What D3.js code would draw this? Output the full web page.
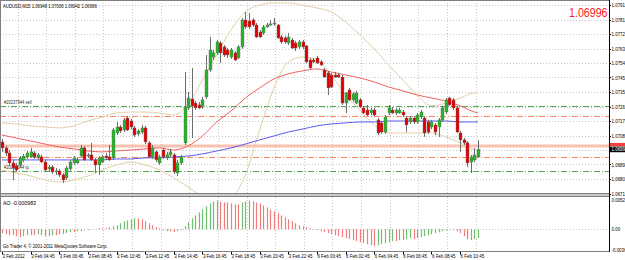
<!DOCTYPE html>
<html>
<head>
<meta charset="utf-8">
<script src="https://cdn.jsdelivr.net/npm/d3@7"></script>
<style>
  html, body { margin: 0; padding: 0; background: #fff; overflow: hidden; }
  svg { display: block; font-family: "Liberation Sans", Arial, sans-serif; }
</style>
</head>
<body>
<svg id="chart" width="625" height="260"></svg>
<script>
const symbolTitle = "AUDUSD,M15  1.06948 1.07006 1.06942 1.06996";
const lastPrice = "1.06996";
const aoTitle = "AO -0.000983";
const copyright = "Go Trader 4, \u00a9 2001-2011 MetaQuotes Software Corp.";

const timeLabels = ["3 Feb 2012", "3 Feb 04:45", "3 Feb 06:45", "3 Feb 08:45", "3 Feb 10:45", "3 Feb 12:45",
  "3 Feb 14:45", "3 Feb 16:45", "3 Feb 18:45", "3 Feb 20:45", "3 Feb 22:45", "6 Feb 00:45",
  "6 Feb 02:45", "6 Feb 04:45", "6 Feb 06:45", "6 Feb 08:45", "6 Feb 10:45"];
const timeLabelBars = [0, 8, 16, 24, 32, 40, 48, 56, 64, 72, 80, 88, 96, 104, 112, 120, 128];

const priceTicks = [1.07911, 1.07819, 1.07727, 1.07635, 1.07543, 1.07451, 1.07359, 1.07267,
  1.07175, 1.07083, 1.06991, 1.06899, 1.06807, 1.06715];
const aoTicks = [0.00527, 0, -0.00368];
const aoTickText = ["0.00527", "0.00", "-0.00368"];

const open = [1.07042,1.07004,1.06972,1.06909,1.06890,1.06896,1.06928,1.06947,1.06947,1.06972,
  1.06941,1.06947,1.06915,1.06871,1.06883,1.06852,1.06858,1.06833,1.06814,1.06871,
  1.06909,1.06909,1.06953,1.07004,1.06953,1.06960,1.06928,1.06896,1.06915,1.06953,
  1.06947,1.06941,1.07099,1.07137,1.07118,1.07194,1.07175,1.07131,1.07093,1.07105,
  1.07131,1.07036,1.06947,1.06979,1.06909,1.06991,1.06941,1.06960,1.06960,1.06845,
  1.06909,1.07036,1.07258,1.07315,1.07289,1.07277,1.07264,1.07328,1.07499,1.07581,
  1.07607,1.07670,1.07645,1.07626,1.07581,1.07607,1.07575,1.07645,1.07816,1.07810,
  1.07816,1.07784,1.07740,1.07734,1.07772,1.07784,1.07791,1.07784,1.07708,1.07702,
  1.07670,1.07689,1.07670,1.07645,1.07677,1.07651,1.07562,1.07562,1.07575,1.07550,
  1.07499,1.07480,1.07467,1.07467,1.07467,1.07454,1.07289,1.07372,1.07309,1.07289,
  1.07309,1.07258,1.07245,1.07226,1.07245,1.07182,1.07163,1.07105,1.07226,1.07245,
  1.07226,1.07226,1.07232,1.07194,1.07169,1.07194,1.07169,1.07201,1.07194,1.07169,
  1.07137,1.07150,1.07137,1.07182,1.07232,1.07321,1.07309,1.07258,1.07099,1.07055,
  1.07036,1.06915,1.06928,1.06947];
const high = [1.07061,1.07017,1.06991,1.06928,1.06909,1.06953,1.06966,1.06985,1.07004,1.06985,
  1.06972,1.06960,1.06928,1.06896,1.06896,1.06877,1.06871,1.06845,1.06890,1.06928,
  1.06953,1.06941,1.07023,1.07017,1.06972,1.07036,1.06941,1.06953,1.06960,1.06972,
  1.07023,1.07131,1.07169,1.07150,1.07194,1.07207,1.07188,1.07144,1.07124,1.07150,
  1.07144,1.07048,1.07023,1.06991,1.06960,1.07004,1.06979,1.06998,1.06972,1.06928,
  1.06960,1.07486,1.07359,1.07512,1.07302,1.07296,1.07328,1.07594,1.07708,1.07626,
  1.07689,1.07683,1.07657,1.07638,1.07638,1.07619,1.07657,1.07829,1.07867,1.07861,
  1.07829,1.07797,1.07753,1.07784,1.07797,1.07816,1.07829,1.07791,1.07721,1.07715,
  1.07734,1.07702,1.07683,1.07689,1.07689,1.07657,1.07575,1.07575,1.07588,1.07562,
  1.07512,1.07493,1.07480,1.07486,1.07480,1.07467,1.07359,1.07385,1.07359,1.07366,
  1.07321,1.07271,1.07277,1.07258,1.07258,1.07194,1.07175,1.07213,1.07277,1.07264,
  1.07258,1.07258,1.07245,1.07207,1.07207,1.07207,1.07226,1.07245,1.07207,1.07182,
  1.07182,1.07163,1.07194,1.07271,1.07321,1.07328,1.07321,1.07271,1.07112,1.07067,
  1.07048,1.06960,1.07004,1.07055];
const low = [1.06979,1.06953,1.06890,1.06801,1.06852,1.06883,1.06915,1.06934,1.06941,1.06934,
  1.06928,1.06909,1.06852,1.06852,1.06839,1.06833,1.06820,1.06782,1.06801,1.06858,
  1.06896,1.06902,1.06947,1.06922,1.06941,1.06922,1.06845,1.06833,1.06909,1.06928,
  1.06922,1.06928,1.07086,1.07099,1.07105,1.07112,1.07124,1.07074,1.07080,1.07093,
  1.07029,1.06941,1.06934,1.06915,1.06896,1.06934,1.06928,1.06947,1.06839,1.06826,
  1.06896,1.07023,1.07245,1.07067,1.07245,1.07251,1.07251,1.07315,1.07486,1.07562,
  1.07594,1.07543,1.07581,1.07575,1.07569,1.07556,1.07569,1.07632,1.07759,1.07759,
  1.07772,1.07702,1.07702,1.07721,1.07765,1.07778,1.07778,1.07696,1.07664,1.07664,
  1.07657,1.07632,1.07619,1.07632,1.07632,1.07543,1.07505,1.07543,1.07537,1.07524,
  1.07448,1.07340,1.07385,1.07448,1.07448,1.07277,1.07226,1.07302,1.07296,1.07283,
  1.07258,1.07220,1.07207,1.07213,1.07207,1.07086,1.07093,1.07093,1.07213,1.07220,
  1.07213,1.07220,1.07201,1.07105,1.07156,1.07156,1.07156,1.07188,1.07074,1.07093,
  1.07124,1.07086,1.07074,1.07169,1.07220,1.07271,1.07245,1.07099,1.06979,1.07023,
  1.06883,1.06845,1.06915,1.06941];
const close = [1.07004,1.06972,1.06909,1.06877,1.06864,1.06941,1.06953,1.06972,1.06979,1.06947,
  1.06960,1.06915,1.06864,1.06883,1.06852,1.06858,1.06833,1.06801,1.06877,1.06915,
  1.06941,1.06928,1.07004,1.06928,1.06960,1.06928,1.06896,1.06941,1.06947,1.06941,
  1.06928,1.07118,1.07137,1.07112,1.07182,1.07118,1.07137,1.07086,1.07112,1.07131,
  1.07042,1.06947,1.07004,1.06928,1.06947,1.06947,1.06960,1.06979,1.06852,1.06909,
  1.06947,1.07264,1.07321,1.07271,1.07258,1.07258,1.07309,1.07499,1.07626,1.07607,
  1.07677,1.07607,1.07594,1.07594,1.07626,1.07562,1.07645,1.07816,1.07772,1.07772,
  1.07784,1.07708,1.07708,1.07772,1.07784,1.07791,1.07797,1.07702,1.07677,1.07677,
  1.07708,1.07638,1.07638,1.07677,1.07645,1.07550,1.07512,1.07550,1.07543,1.07531,
  1.07454,1.07385,1.07391,1.07454,1.07454,1.07289,1.07353,1.07309,1.07347,1.07353,
  1.07264,1.07226,1.07213,1.07245,1.07213,1.07099,1.07105,1.07201,1.07258,1.07226,
  1.07245,1.07245,1.07213,1.07150,1.07194,1.07169,1.07213,1.07232,1.07099,1.07105,
  1.07169,1.07105,1.07182,1.07258,1.07309,1.07277,1.07258,1.07105,1.07055,1.07036,
  1.06909,1.06947,1.06960,1.06996];

// Indicateurs (valeurs lues tous les 4 bars)
const lineBars = [0,4,8,12,16,20,24,28,32,36,40,44,48,52,56,60,64,68,72,76,80,84,88,92,96,100,104,108,112,116,120,124,128,132,133];
const maFast = [1.07086,1.07067,1.07048,1.07029,1.07010,1.06998,1.06985,1.06979,1.06985,1.06991,1.06998,1.07004,1.06991,1.07017,
  1.07080,1.07169,1.07239,1.07321,1.07385,1.07442,1.07474,1.07493,1.07505,1.07486,1.07467,1.07448,1.07423,1.07391,1.07366,
  1.07340,1.07321,1.07302,1.07271,1.07232,1.07226];
const maSlow = [1.06928,1.06928,1.06928,1.06928,1.06928,1.06928,1.06928,1.06928,1.06934,1.06934,1.06941,1.06941,1.06947,1.06953,
  1.06966,1.06985,1.07004,1.07029,1.07055,1.07080,1.07105,1.07124,1.07144,1.07156,1.07163,1.07169,1.07169,1.07175,1.07175,
  1.07175,1.07175,1.07175,1.07169,1.07169,1.07169];
const bbUpper = [1.07163,1.07156,1.07144,1.07137,1.07131,1.07144,1.07175,1.07201,1.07226,1.07232,1.07232,1.07226,1.07213,1.07283,
  1.07435,1.07594,1.07753,1.07867,1.07911,1.07924,1.07924,1.07911,1.07892,1.07867,1.07803,1.07721,1.07632,1.07531,1.07435,
  1.07340,1.07271,1.07289,1.07321,1.07353,1.07353];
const bbLower = [1.06864,1.06845,1.06826,1.06801,1.06788,1.06801,1.06826,1.06864,1.06896,1.06915,1.06896,1.06864,1.06814,1.06756,
  1.06699,1.06661,1.06687,1.06833,1.07118,1.07385,1.07550,1.07581,1.07562,1.07467,1.07340,1.07245,1.07150,1.07099,1.07099,
  1.07099,1.07099,1.07074,1.07036,1.06991,1.06985];

// Niveaux horizontaux (ordres)
const tradeLevels = [1.07271, 1.07207, 1.06947, 1.06858];
const tradeKinds = ["open", "stop", "stop", "open"];
const tradeTexts = ["#20237944 sell", "", "", "#20237944 tp"];
const bandLevel = 1.07017;

// Awesome Oscillator
const ao = [-0.00070,-0.00088,-0.00106,-0.00106,-0.00123,-0.00141,-0.00123,-0.00106,-0.00106,-0.00106,
  -0.00088,-0.00106,-0.00123,-0.00123,-0.00106,-0.00106,-0.00088,-0.00088,-0.00070,-0.00053,
  -0.00053,-0.00035,-0.00035,-0.00018,-0.00018,-0.00004,0.00004,0.00018,0.00018,0.00018,
  0.00035,0.00053,0.00070,0.00106,0.00141,0.00158,0.00176,0.00194,0.00194,0.00176,
  0.00141,0.00106,0.00070,0.00035,0.00018,-0.00018,-0.00035,-0.00035,-0.00053,-0.00035,
  -0.00018,0.00053,0.00123,0.00194,0.00246,0.00299,0.00352,0.00405,0.00458,0.00493,
  0.00510,0.00493,0.00475,0.00475,0.00458,0.00440,0.00440,0.00475,0.00493,0.00510,
  0.00493,0.00475,0.00458,0.00422,0.00387,0.00352,0.00317,0.00282,0.00246,0.00211,
  0.00176,0.00141,0.00106,0.00070,0.00053,0.00035,0.00018,0.00004,-0.00018,-0.00035,
  -0.00053,-0.00070,-0.00088,-0.00106,-0.00123,-0.00141,-0.00158,-0.00176,-0.00194,-0.00211,
  -0.00229,-0.00246,-0.00264,-0.00282,-0.00299,-0.00282,-0.00264,-0.00246,-0.00229,-0.00211,
  -0.00211,-0.00194,-0.00194,-0.00176,-0.00158,-0.00176,-0.00158,-0.00141,-0.00123,-0.00106,
  -0.00088,-0.00070,-0.00053,-0.00035,-0.00018,-0.00004,-0.00018,-0.00035,-0.00070,-0.00123,
  -0.00176,-0.00194,-0.00176,-0.00158];

// --- Mise en page
const W = 625, H = 260;
const plotRight = 609;
const mainTop = 0, mainBottom = 193;
const indTop = 197, indBottom = 251;
const gridShift = 15.5;
const fontAxis = 5.2;
const squeeze = 0.85; // le texte MT4 est plus étroit

const col = {
  grid: "#c8c8c8",
  frame: "#808080",
  bull: "#22b422",
  bear: "#e00000",
  wick: "#6e6e6e",
  maFast: "#f26060",
  maSlow: "#5a5af0",
  band: "#e3cfa6",
  open: "#52a852",
  stop: "#f5865a",
  salmon: "#f9c2b0",
  aoUp: "#6fbf6f",
  aoDown: "#f07c7c",
  text: "#000"
};

const svg = d3.select("#chart");

const x = d3.scaleLinear().domain([0, close.length - 1]).range([2, 478]);
const y = d3.scaleLinear()
  .domain([priceTicks[priceTicks.length - 1], priceTicks[0]])
  .range([193.5, 5]);
const ya = d3.scaleLinear().domain([aoTicks[2], aoTicks[0]]).range([250, 199.5]);

// texte condensé
function label(sel, tx, ty, size, sx, str) {
  return sel.append("text")
    .attr("transform", `translate(${tx},${ty}) scale(${sx},1)`)
    .attr("font-size", size)
    .text(str);
}

svg.append("rect").attr("width", W).attr("height", H).attr("fill", "#fff");

svg.append("clipPath").attr("id", "clipMain")
  .append("rect").attr("x", 0).attr("y", mainTop).attr("width", plotRight).attr("height", mainBottom - mainTop);
svg.append("clipPath").attr("id", "clipInd")
  .append("rect").attr("x", 0).attr("y", indTop).attr("width", plotRight).attr("height", indBottom - indTop);

// --- Grille pointillée
const grid = svg.append("g").attr("stroke", col.grid).attr("stroke-dasharray", "1,2").attr("stroke-width", 1);
grid.selectAll(".gh").data(priceTicks).join("line")
  .attr("x1", 0).attr("x2", plotRight)
  .attr("y1", d => Math.round(y(d)) + 0.5).attr("y2", d => Math.round(y(d)) + 0.5);
grid.selectAll(".gv").data(timeLabelBars).join("line")
  .attr("x1", d => Math.round(x(d) + gridShift) + 0.5).attr("x2", d => Math.round(x(d) + gridShift) + 0.5)
  .attr("y1", mainTop).attr("y2", mainBottom);
grid.selectAll(".gvi").data(timeLabelBars).join("line")
  .attr("x1", d => Math.round(x(d) + gridShift) + 0.5).attr("x2", d => Math.round(x(d) + gridShift) + 0.5)
  .attr("y1", indTop).attr("y2", indBottom);
grid.append("line")
  .attr("x1", 0).attr("x2", plotRight)
  .attr("y1", Math.round(ya(0)) + 0.5).attr("y2", Math.round(ya(0)) + 0.5);

const main = svg.append("g").attr("clip-path", "url(#clipMain)");

// --- Niveaux des ordres
main.append("line")
  .attr("x1", 0).attr("x2", plotRight)
  .attr("y1", y(bandLevel)).attr("y2", y(bandLevel))
  .attr("stroke", col.salmon).attr("stroke-width", 3);

main.selectAll(".lvl").data(tradeLevels).join("line")
  .attr("x1", 0).attr("x2", plotRight)
  .attr("y1", d => Math.round(y(d)) + 0.5).attr("y2", d => Math.round(y(d)) + 0.5)
  .attr("stroke", (d, i) => tradeKinds[i] === "open" ? col.open : col.stop)
  .attr("stroke-width", 1)
  .attr("stroke-dasharray", "6,2,1,2");

main.selectAll(".lvlText").data(tradeLevels).join("text")
  .attr("transform", d => `translate(4,${y(d) - 1.5}) scale(${squeeze},1)`)
  .attr("font-size", 4.8).attr("fill", "#333")
  .text((d, i) => tradeTexts[i]);

// --- Bandes de Bollinger et moyennes mobiles
const line = (vals) => d3.line()
  .x((d, i) => x(lineBars[i]))
  .y(d => y(d))
  .curve(d3.curveMonotoneX)(vals);

main.append("path").attr("d", line(bbUpper)).attr("fill", "none").attr("stroke", col.band).attr("stroke-width", 1);
main.append("path").attr("d", line(bbLower)).attr("fill", "none").attr("stroke", col.band).attr("stroke-width", 1);
main.append("path").attr("d", line(maSlow)).attr("fill", "none").attr("stroke", col.maSlow).attr("stroke-width", 1);
main.append("path").attr("d", line(maFast)).attr("fill", "none").attr("stroke", col.maFast).attr("stroke-width", 1);

// --- Chandeliers
const candles = main.append("g");
candles.selectAll(".wick").data(close).join("line")
  .attr("x1", (d, i) => Math.round(x(i)) + 0.5).attr("x2", (d, i) => Math.round(x(i)) + 0.5)
  .attr("y1", (d, i) => y(high[i])).attr("y2", (d, i) => y(low[i]))
  .attr("stroke", col.wick).attr("stroke-width", 1);
candles.selectAll(".body").data(close).join("rect")
  .attr("x", (d, i) => Math.round(x(i)) - 1)
  .attr("width", 3)
  .attr("y", (d, i) => y(Math.max(open[i], d)))
  .attr("height", (d, i) => Math.max(1, Math.abs(y(open[i]) - y(d))))
  .attr("fill", (d, i) => d >= open[i] ? col.bull : col.bear)
  .attr("stroke", col.wick).attr("stroke-width", 0.4);

// --- Oscillateur AO
const ind = svg.append("g").attr("clip-path", "url(#clipInd)");
ind.selectAll(".ao").data(ao).join("line")
  .attr("x1", (d, i) => Math.round(x(i)) + 0.5).attr("x2", (d, i) => Math.round(x(i)) + 0.5)
  .attr("y1", ya(0)).attr("y2", d => ya(d))
  .attr("stroke", (d, i) => (i > 0 && d > ao[i - 1]) ? col.aoUp : col.aoDown)
  .attr("stroke-width", 1.2);

// --- Cadres
svg.append("rect").attr("x", 0).attr("y", mainBottom).attr("width", plotRight).attr("height", indTop - mainBottom)
  .attr("fill", "#c8c8c8");
const frame = svg.append("g").attr("stroke", col.frame).attr("fill", "none").attr("stroke-width", 1);
frame.append("line").attr("x1", 0.5).attr("x2", 0.5).attr("y1", 0).attr("y2", indBottom);
frame.append("line").attr("x1", 0).attr("x2", plotRight).attr("y1", 0.5).attr("y2", 0.5);
frame.append("line").attr("x1", 0).attr("x2", plotRight + 1).attr("y1", mainBottom + 0.5).attr("y2", mainBottom + 0.5);
frame.append("line").attr("x1", 0).attr("x2", plotRight + 1).attr("y1", indTop - 0.5).attr("y2", indTop - 0.5);
frame.append("line").attr("x1", 0).attr("x2", plotRight + 1).attr("y1", indBottom + 0.5).attr("y2", indBottom + 0.5);
frame.append("line").attr("x1", plotRight + 0.5).attr("x2", plotRight + 0.5).attr("y1", 0).attr("y2", indBottom + 1)
  .attr("stroke", "#000");

// --- Axe des prix
const axisG = svg.append("g").attr("fill", col.text);
axisG.selectAll(".pt").data(priceTicks).join("text")
  .attr("transform", d => `translate(${plotRight + 2.5},${y(d) + 2}) scale(${squeeze},1)`)
  .attr("font-size", fontAxis)
  .text(d => d.toFixed(5));
axisG.selectAll(".ptk").data(priceTicks).join("line")
  .attr("x1", plotRight).attr("x2", plotRight + 2)
  .attr("y1", d => Math.round(y(d)) + 0.5).attr("y2", d => Math.round(y(d)) + 0.5)
  .attr("stroke", "#000");

// Étiquettes niveau / bid
svg.append("rect").attr("x", plotRight + 1).attr("y", y(bandLevel) - 3).attr("width", W - plotRight).attr("height", 3.5)
  .attr("fill", "#f04040");
svg.append("rect").attr("x", plotRight + 1).attr("y", y(close[close.length - 1]) - 2.5).attr("width", W - plotRight).attr("height", 5.5)
  .attr("fill", "#000");
label(svg, plotRight + 2.5, y(close[close.length - 1]) + 2, fontAxis, squeeze, close[close.length - 1].toFixed(5))
  .attr("fill", "#fff");

// Axe AO
axisG.selectAll(".at").data(aoTicks).join("text")
  .attr("transform", d => `translate(${plotRight + 2.5},${ya(d) + 2}) scale(${squeeze},1)`)
  .attr("font-size", fontAxis)
  .text((d, i) => aoTickText[i]);

// --- Axe du temps
const timeG = svg.append("g").attr("fill", col.text);
timeG.selectAll(".tt").data(timeLabelBars).join("text")
  .attr("transform", d => `translate(${x(d) + 0.5},258) scale(${squeeze},1)`)
  .attr("font-size", fontAxis)
  .text((d, i) => timeLabels[i]);
timeG.selectAll(".ttk").data(timeLabelBars).join("line")
  .attr("x1", d => Math.round(x(d)) + 0.5).attr("x2", d => Math.round(x(d)) + 0.5)
  .attr("y1", indBottom + 1).attr("y2", indBottom + 3.5)
  .attr("stroke", "#000");

// --- Textes
label(svg, 3, 7.5, 5.2, 0.82, symbolTitle).attr("fill", col.text);
label(svg, 607.5, 17, 13, 0.82, lastPrice).attr("text-anchor", "end").attr("fill", "#ff1a1a");
label(svg, 3, 205, 5.6, 0.95, aoTitle).attr("fill", col.text);
label(svg, 3, 248, 5.2, 0.83, copyright).attr("fill", col.text);
</script>
</body>
</html>
